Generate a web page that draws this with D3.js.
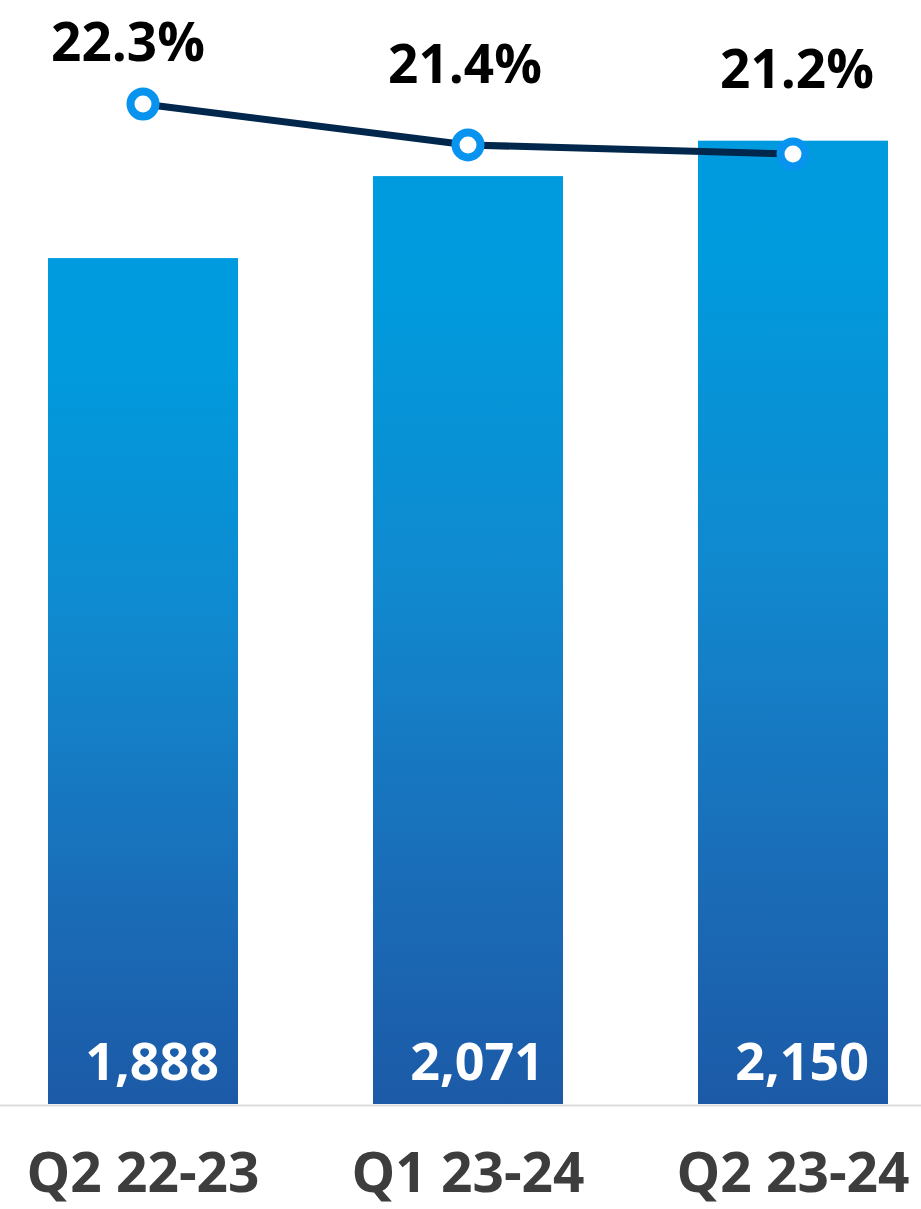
<!DOCTYPE html>
<html>
<head>
<meta charset="utf-8">
<script src="https://cdn.jsdelivr.net/npm/d3@7/dist/d3.min.js"></script>
<style>
  html, body { margin: 0; padding: 0; background: #ffffff; }
  svg { display: block; }
  text { font-family: "Open Sans", "Liberation Sans", sans-serif; font-weight: 700; }
</style>
</head>
<body>
<svg id="chart" width="921" height="1209"></svg>
<script>
// Quarterly figures
const categories = ["Q2 22-23", "Q1 23-24", "Q2 23-24"];
const barValues = [1888, 2071, 2150];
const marginValues = [22.3, 21.4, 21.2];

// Small per-label nudges for the percentage labels (dx, dy above the point)
const pctLabelDx = [-15, -3, 4];
const pctLabelDy = [-43, -62, -66];

const svg = d3.select("#chart");
const W = 921, H = 1209;
const baseY = 1104;

const x = d3.scaleBand()
  .domain(categories)
  .range([-17, 953])
  .paddingInner(135 / 325)
  .paddingOuter(0.2);

const yBar = d3.scaleLinear()
  .domain([0, 2464])
  .range([baseY, 0]);

const yPct = d3.scaleLinear()
  .domain([20, 23])
  .range([208.65, 72.15]);

// Vertical gradient used by each bar
const defs = svg.append("defs");
const grad = defs.append("linearGradient")
  .attr("id", "barGrad")
  .attr("x1", 0).attr("y1", 0).attr("x2", 0).attr("y2", 1);
grad.append("stop").attr("offset", "0%").attr("stop-color", "#009bdf");
grad.append("stop").attr("offset", "12%").attr("stop-color", "#009bdd");
grad.append("stop").attr("offset", "45%").attr("stop-color", "#1188ce");
grad.append("stop").attr("offset", "75%").attr("stop-color", "#1a6db8");
grad.append("stop").attr("offset", "100%").attr("stop-color", "#1c5aa7");

// Bars
svg.append("g").selectAll("rect")
  .data(barValues)
  .join("rect")
  .attr("x", (d, i) => x(categories[i]))
  .attr("width", x.bandwidth())
  .attr("y", d => yBar(d))
  .attr("height", d => baseY - yBar(d))
  .attr("fill", "url(#barGrad)");

// Baseline
svg.append("line")
  .attr("x1", 0).attr("x2", W)
  .attr("y1", baseY + 1.5).attr("y2", baseY + 1.5)
  .attr("stroke", "#dcdcdc")
  .attr("stroke-width", 2);

// Value labels inside the bars
svg.append("g").selectAll("text")
  .data(barValues)
  .join("text")
  .attr("x", (d, i) => x(categories[i]) + x.bandwidth() - 19)
  .attr("y", 1080)
  .attr("text-anchor", "end")
  .attr("fill", "#ffffff")
  .attr("font-size", 52)
  .text(d => d3.format(",")(d));

// Category labels
svg.append("g").selectAll("text")
  .data(categories)
  .join("text")
  .attr("x", d => x(d) + x.bandwidth() / 2)
  .attr("y", 1192)
  .attr("text-anchor", "middle")
  .attr("fill", "#3d3d3d")
  .attr("font-size", 55)
  .text(d => d);

// Margin line
const cx = i => x(categories[i]) + x.bandwidth() / 2;
const line = d3.line()
  .x((d, i) => cx(i))
  .y(d => yPct(d));

svg.append("path")
  .datum(marginValues)
  .attr("d", line)
  .attr("fill", "none")
  .attr("stroke", "#02274c")
  .attr("stroke-width", 7);

svg.append("g").selectAll("circle")
  .data(marginValues)
  .join("circle")
  .attr("cx", (d, i) => cx(i))
  .attr("cy", d => yPct(d))
  .attr("r", 12.5)
  .attr("fill", "#ffffff")
  .attr("stroke", "#0894ee")
  .attr("stroke-width", 8);

// Percentage labels
svg.append("g").selectAll("text")
  .data(marginValues)
  .join("text")
  .attr("x", (d, i) => cx(i) + pctLabelDx[i])
  .attr("y", (d, i) => yPct(d) + pctLabelDy[i])
  .attr("text-anchor", "middle")
  .attr("fill", "#000000")
  .attr("font-size", 53)
  .text(d => d.toFixed(1) + "%");
</script>
</body>
</html>
